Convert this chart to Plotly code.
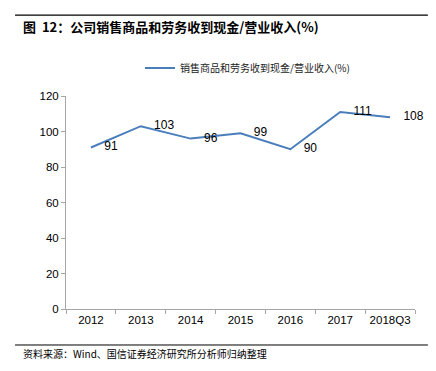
import plotly.graph_objects as go

categories = ["2012", "2013", "2014", "2015", "2016", "2017", "2018Q3"]
values = [91, 103, 96, 99, 90, 111, 108]
series_name = "销售商品和劳务收到现金/营业收入(%)"
y_ticks = [0, 20, 40, 60, 80, 100, 120]

fig = go.Figure()
fig.add_trace(go.Scatter(
    x=categories, y=values, name=series_name,
    mode="lines+text",
    line=dict(color="#4a7ebb", width=2),
    text=["    " + str(v) for v in values],
    textposition="middle right",
    textfont=dict(family="Liberation Sans, Arial", size=12, color="#000000"),
    cliponaxis=False,
))

fig.update_layout(
    width=436, height=371,
    margin=dict(l=66, r=21, t=96, b=62, autoexpand=False),
    paper_bgcolor="white", plot_bgcolor="white",
    showlegend=True,
    legend=dict(orientation="h", x=0.52, xanchor="center", y=1.131, yanchor="middle",
                bgcolor="rgba(0,0,0,0)",
                font=dict(family="Noto Sans CJK SC", size=10, color="#222"),
                itemwidth=30),
    xaxis=dict(type="category", showline=True, linecolor="#a6a6a6", linewidth=1,
               ticks="outside", tickson="boundaries", ticklen=4, tickcolor="#a6a6a6",
               tickangle=0,
               tickfont=dict(family="Liberation Sans, Arial", size=11.5, color="#000"),
               showgrid=False, range=[-0.5, 6.5]),
    yaxis=dict(range=[0, 120], tickvals=y_ticks, showline=True, linecolor="#a6a6a6",
               linewidth=1, ticks="outside", ticklen=4, tickcolor="#a6a6a6",
               tickfont=dict(family="Liberation Sans, Arial", size=11.5, color="#000"),
               showgrid=False, zeroline=False),
    shapes=[
        dict(type="line", xref="paper", yref="paper", x0=-0.146, x1=1.037,
             y0=1.38, y1=1.38, layer="above", line=dict(color="black", width=1.2)),
        dict(type="line", xref="paper", yref="paper", x0=-0.146, x1=1.037,
             y0=-0.169, y1=-0.169, layer="above", line=dict(color="black", width=1)),
    ],
    annotations=[
        dict(text="<b>图  12：公司销售商品和劳务收到现金/营业收入(%)</b>", xref="paper", yref="paper",
             x=-0.13, y=1.325, xanchor="left", yanchor="middle", showarrow=False,
             font=dict(family="Noto Sans CJK SC", size=13, color="#000")),
        dict(text="资料来源：Wind、国信证券经济研究所分析师归纳整理", xref="paper", yref="paper",
             x=-0.13, y=-0.211, xanchor="left", yanchor="middle", showarrow=False,
             font=dict(family="Noto Sans CJK SC", size=10, color="#000")),
    ],
)

fig.write_html("out.html", config={"displayModeBar": False},
               post_script="document.body.style.margin='0';")
